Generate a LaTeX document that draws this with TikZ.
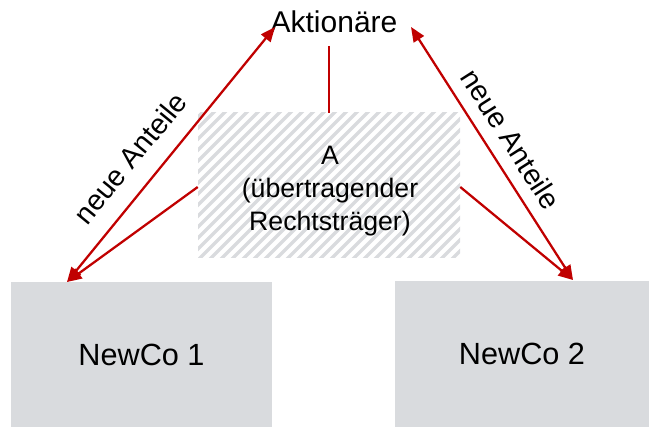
\documentclass[tikz,border=0pt]{standalone}
\usepackage{fontspec}
\setmainfont{Liberation Sans}
\usepackage{xcolor}
\usetikzlibrary{arrows.meta}

\definecolor{boxgray}{HTML}{D9DBDE}
\definecolor{linered}{HTML}{C00000}

\tikzset{
    company/.style={fill=boxgray,draw=none,minimum height=145*0.75pt,
        font=\fontsize{23}{27}\selectfont},
    flow/.style={linered,line width=1.7pt},
    tip/.style={-{Triangle[length=11pt,width=9pt]}},
    bothtips/.style={{Triangle[length=11pt,width=9pt]}-{Triangle[length=11pt,width=9pt]}},
    hatch/.style={boxgray,line width=2.6pt},
    label/.style={font=\fontsize{21.5}{25}\selectfont}
}

\begin{document}
\begin{tikzpicture}[x=0.75pt,y=-0.75pt]
\useasboundingbox (0,0) rectangle (649,427);

% Hatched box of A
\begin{scope}
    \clip (198,113) rectangle (460,258);
    \foreach \x in {0,11,...,600} {
        \draw[hatch] (\x+50,100) -- (\x+50-170,270);
    }
\end{scope}
\node[minimum width=262*0.75pt,minimum height=145*0.75pt] (a) at (329,185.5) {};
\node[align=center,font=\fontsize{20}{25}\selectfont] (atext) at (330,191) {A\\(übertragender\\Rechtsträger)};

% Shareholders and new companies
\node[font=\fontsize{22.5}{26}\selectfont,inner sep=1pt] (aktionaere) at (334,22) {Aktionäre};
\node[company,minimum width=261*0.75pt] (newco1) at (141.5,355) {NewCo 1};
\node[company,minimum width=254*0.75pt] (newco2) at (522,354) {NewCo 2};

% Arrow ends
\coordinate (n1tip) at (67,282);
\coordinate (n2tip) at (573,280);
\coordinate (akl) at (275,27);
\coordinate (akr) at (411,27);

% Connectors
\draw[flow] (a.north |- 0,46) -- (a.north);
\draw[flow,tip] (a.west |- 0,187) -- (n1tip);
\draw[flow,tip] (a.east |- 0,187) -- (n2tip);
\draw[flow,bothtips] (akl) -- (n1tip);
\draw[flow,bothtips] (akr) -- (n2tip);

% Labels
\node[label,rotate=50.7] (lbll) at (130,158) {neue Anteile};
\node[label,rotate=-57.4] (lblr) at (511,139) {neue Anteile};

\end{tikzpicture}
\end{document}
